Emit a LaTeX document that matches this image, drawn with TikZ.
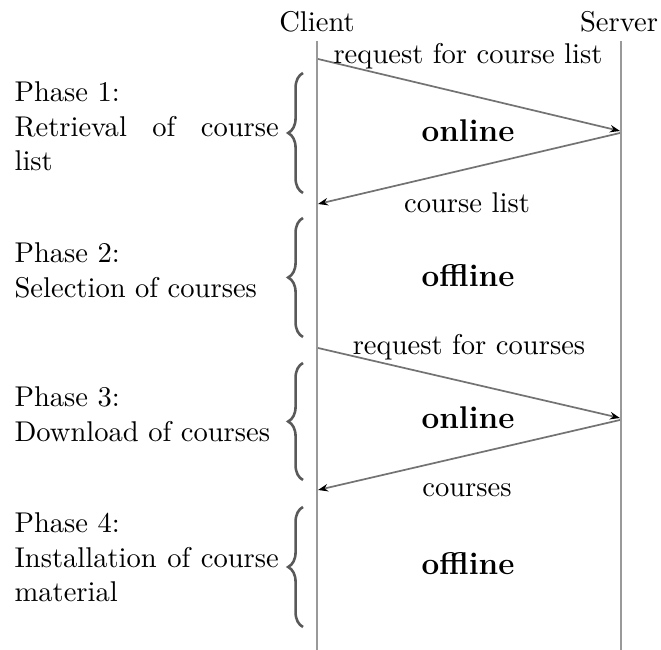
\documentclass[tikz,border=0pt]{standalone}
\usetikzlibrary{arrows.meta,decorations.pathreplacing}
\begin{document}
\begin{tikzpicture}[x=0.35pt,y=-0.35pt,
  life/.style={line width=1pt,draw=black!40},
  msg/.style={line width=0.6pt,draw=black!55,-{Stealth[length=3.5pt,width=2.6pt,black]}},
  lbl/.style={anchor=base,inner sep=0pt},
  phasetxt/.style={anchor=base west,inner sep=0pt},
  modetxt/.style={anchor=base,inner sep=0pt,font=\fontsize{11}{13}\selectfont\bfseries},
  bracestyle/.style={line width=0.9pt,draw=black!65,decorate,decoration={brace,amplitude=5.2pt}}]
\useasboundingbox (0,0) rectangle (661,650);
% headers
\node[lbl] (client) at (317,32) {Client};
\node[lbl] (server) at (619,32) {Server};
% lifelines
\coordinate (ctop) at (317,41);
\coordinate (cbot) at (317,650);
\coordinate (stop) at (621,41);
\coordinate (sbot) at (621,650);
\draw[life] (ctop) -- (cbot);
\draw[life] (stop) -- (sbot);
% message end points
\coordinate (c1) at (318,59);
\coordinate (s1) at (620,131);
\coordinate (s2) at (620,133);
\coordinate (c2) at (318,204);
\coordinate (c3) at (318,348);
\coordinate (s3) at (620,418);
\coordinate (s4) at (620,420);
\coordinate (c4) at (318,490);
\draw[msg] (c1) -- (s1);
\draw[msg] (s2) -- (c2);
\draw[msg] (c3) -- (s3);
\draw[msg] (s4) -- (c4);
% message labels
\node[lbl] (m1) at (468,64) {request for course list};
\node[lbl] (m2) at (467,213) {course list};
\node[lbl] (m3) at (469,355) {request for courses};
\node[lbl] (m4) at (467,497) {courses};
% modes
\node[modetxt] (o1) at (468,142) {online};
\node[modetxt] (o2) at (468,287) {offline};
\node[modetxt] (o3) at (468,429) {online};
\node[modetxt] (o4) at (468,575) {offline};
% braces
\coordinate (b1b) at (303,193); \coordinate (b1t) at (303,73);
\coordinate (b2b) at (303,337); \coordinate (b2t) at (303,218);
\coordinate (b3b) at (303,480); \coordinate (b3t) at (303,363);
\coordinate (b4b) at (303,627); \coordinate (b4t) at (303,507);
\draw[bracestyle] (b1b) -- (b1t);
\draw[bracestyle] (b2b) -- (b2t);
\draw[bracestyle] (b3b) -- (b3t);
\draw[bracestyle] (b4b) -- (b4t);
% phase texts
\node[phasetxt] (p1) at (14,102) {\parbox[t]{92.5pt}{Phase 1:\\Retrieval of course\linebreak list}};
\node[phasetxt] (p2) at (14,263) {\parbox[t]{92.5pt}{Phase 2:\\Selection of courses}};
\node[phasetxt] (p3) at (14,407) {\parbox[t]{92.5pt}{Phase 3:\\Download of courses}};
\node[phasetxt] (p4) at (14,533) {\parbox[t]{92.5pt}{Phase 4:\\Installation of course\linebreak material}};
\end{tikzpicture}
\end{document}
